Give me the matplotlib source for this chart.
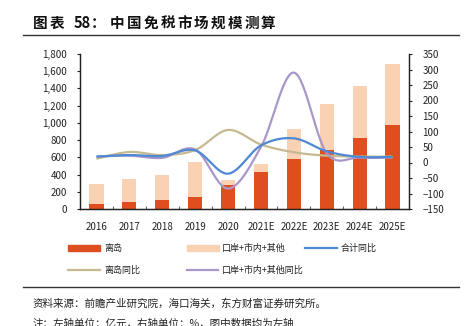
import numpy as np
import matplotlib
matplotlib.use('Agg')
import matplotlib.pyplot as plt
from matplotlib.lines import Line2D
from matplotlib.patches import Rectangle
from matplotlib.ticker import FuncFormatter, MultipleLocator, FixedLocator

plt.rcParams['font.family'] = ['Noto Sans CJK SC', 'DejaVu Sans']

years = ['2016', '2017', '2018', '2019', '2020', '2021E', '2022E', '2023E', '2024E', '2025E']
hainan = [60, 80, 100, 135, 275, 430, 575, 690, 823, 980]          # 离岛
others = [230, 270, 295, 410, 65, 95, 355, 530, 609, 704]          # 口岸+市内+其他
total_yoy = [19, 24, 21, 39, -36, 55, 78, 36, 18, 18]              # 合计同比
hainan_yoy = [12, 34, 24, 40, 105, 58, 33, 22, 19, 19]             # 离岛同比
others_yoy = [19, 22, 15, 42, -84, 50, 290, 30, 16, 16]            # 口岸+市内+其他同比

RED = '#DF4E1F'
PEACH = '#F9D2B4'
BLUE = '#4F88D3'
KHAKI = '#C6B991'
PURPLE = '#A997C9'


def smooth(xs, ys, n=30):
    # bezier smoothing through every point, like a spreadsheet "smooth line"
    xs = np.asarray(xs, float)
    ys = np.asarray(ys, float)
    px = np.concatenate([[xs[0]], xs, [xs[-1]]])
    py = np.concatenate([[ys[0]], ys, [ys[-1]]])
    out_x, out_y = [], []
    t = np.linspace(0, 1, n)
    for i in range(1, len(px) - 2):
        p0 = np.array([px[i - 1], py[i - 1]])
        p1 = np.array([px[i], py[i]])
        p2 = np.array([px[i + 1], py[i + 1]])
        p3 = np.array([px[i + 2], py[i + 2]])
        b1 = p1 + (p2 - p0) / 6
        b2 = p2 - (p3 - p1) / 6
        pts = ((1 - t) ** 3)[:, None] * p1 + (3 * (1 - t) ** 2 * t)[:, None] * b1 \
            + (3 * (1 - t) * t ** 2)[:, None] * b2 + (t ** 3)[:, None] * p2
        out_x.extend(pts[:, 0])
        out_y.extend(pts[:, 1])
    return out_x, out_y


W, H = 470, 326
fig = plt.figure(figsize=(W / 100, H / 100), dpi=100)


def fx(px):
    return px / W


def fy(py):
    return 1 - py / H


ax = fig.add_axes([fx(80), fy(209), (409 - 80) / W, (209 - 54) / H])
x = np.arange(len(years))
ax.bar(x, hainan, width=0.43, color=RED, zorder=2)
ax.bar(x, others, width=0.43, bottom=hainan, color=PEACH, zorder=2)

ax.set_xlim(-0.5, len(years) - 0.5)
ax.set_ylim(0, 1800)
ax.yaxis.set_major_locator(MultipleLocator(200))
ax.yaxis.set_major_formatter(FuncFormatter(lambda v, p: f'{int(v):,}'))
ax.set_xticks(x)
ax.set_xticklabels(years)
ax.xaxis.set_minor_locator(FixedLocator(np.arange(0.5, len(years) - 1, 1)))
ax.tick_params(axis='x', which='major', length=0, pad=9, labelsize=7, colors='#222222')
ax.tick_params(axis='x', which='minor', direction='in', length=2.5, width=0.8, color='#666666')
ax.tick_params(axis='y', direction='out', length=2.5, width=0.8, pad=7, labelsize=7, colors='#222222')

ax2 = ax.twinx()
for vals, col in [(hainan_yoy, KHAKI), (others_yoy, PURPLE), (total_yoy, BLUE)]:
    sx, sy = smooth(x, vals)
    ax2.plot(sx, sy, color=col, lw=1.6, solid_capstyle='butt', zorder=3)
ax2.set_ylim(-150, 350)
ax2.yaxis.set_major_locator(MultipleLocator(50))
ax2.tick_params(axis='y', direction='out', length=2.5, width=0.8, pad=7, labelsize=7, colors='#222222')

for a in (ax, ax2):
    a.spines['top'].set_visible(False)
    for s in ('left', 'right', 'bottom'):
        a.spines[s].set_linewidth(0.9)
        a.spines[s].set_color('#222222')

# legend drawn by hand
leg_fs = 6.5
row1, row2 = 248, 270
fig.add_artist(Rectangle((fx(68), fy(row1 + 3)), 32 / W, 6 / H, transform=fig.transFigure,
                         color=RED))
fig.text(fx(104), fy(row1), '离岛', fontsize=leg_fs, va='center', color='#222222')
fig.add_artist(Rectangle((fx(187), fy(row1 + 3)), 32 / W, 6 / H, transform=fig.transFigure,
                         color=PEACH))
fig.text(fx(222), fy(row1), '口岸+市内+其他', fontsize=leg_fs, va='center', color='#222222')
fig.add_artist(Line2D([fx(305), fx(337)], [fy(row1), fy(row1)], transform=fig.transFigure,
                      color=BLUE, lw=1.6))
fig.text(fx(341), fy(row1), '合计同比', fontsize=leg_fs, va='center', color='#222222')
fig.add_artist(Line2D([fx(68), fx(100)], [fy(row2), fy(row2)], transform=fig.transFigure,
                      color=KHAKI, lw=1.6))
fig.text(fx(104), fy(row2), '离岛同比', fontsize=leg_fs, va='center', color='#222222')
fig.add_artist(Line2D([fx(187), fx(218)], [fy(row2), fy(row2)], transform=fig.transFigure,
                      color=PURPLE, lw=1.6))
fig.text(fx(222), fy(row2), '口岸+市内+其他同比', fontsize=leg_fs, va='center', color='#222222')

# title, spaced out character by character
title_kw = dict(fontsize=10.5, fontweight='bold', va='center', color='#111111')
fig.text(fx(33), fy(23), '图', **title_kw)
fig.text(fx(50), fy(23), '表', **title_kw)
fig.text(fx(74), fy(23), '58', **title_kw)
fig.text(fx(91), fy(23), '：', **title_kw)
for i, ch in enumerate('中国免税市场规模测算'):
    fig.text(fx(110 + i * 16.8), fy(23), ch, **title_kw)

fig.add_artist(Line2D([fx(23), fx(459)], [fy(35), fy(35)], transform=fig.transFigure,
                      color='#333333', lw=1.0))
fig.add_artist(Line2D([fx(23), fx(459)], [fy(287), fy(287)], transform=fig.transFigure,
                      color='#333333', lw=1.0))
fig.text(fx(33), fy(304), '资料来源：前瞻产业研究院，海口海关，东方财富证券研究所。', fontsize=7.6,
         va='center', color='#222222')
fig.text(fx(33), fy(324), '注：左轴单位：亿元，右轴单位：%，图中数据均为左轴', fontsize=7.6,
         va='center', color='#222222')

fig.savefig('out.png', dpi=100)
